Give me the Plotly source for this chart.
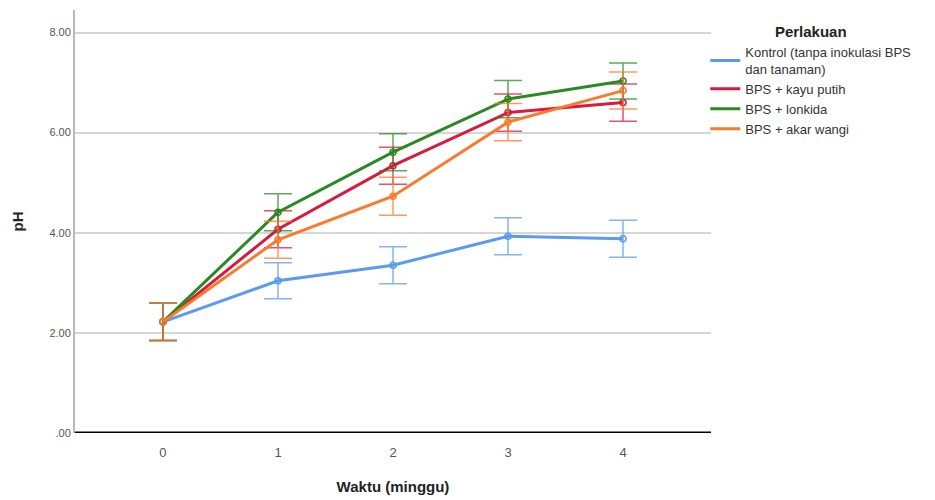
import plotly.graph_objects as go

weeks = [0, 1, 2, 3, 4]
series_names = ["Kontrol (tanpa inokulasi BPS<br>dan tanaman)", "BPS + kayu putih", "BPS + lonkida", "BPS + akar wangi"]
kontrol = [2.22, 3.04, 3.35, 3.93, 3.88]
kayu_putih = [2.22, 4.07, 5.34, 6.40, 6.60]
lonkida = [2.22, 4.41, 5.61, 6.67, 7.03]
akar_wangi = [2.22, 3.86, 4.73, 6.21, 6.84]
err_kontrol = [0.37, 0.36, 0.37, 0.37, 0.37]
err_kayu_putih = [0.37, 0.37, 0.37, 0.37, 0.37]
err_lonkida = [0.37, 0.37, 0.37, 0.37, 0.36]
err_akar_wangi = [0.37, 0.37, 0.38, 0.37, 0.37]
y_ticks = [0, 2, 4, 6, 8]
y_ticktext = [".00", "2.00", "4.00", "6.00", "8.00"]

colors = ["#5a9bef", "#d81a3f", "#2a8a22", "#fa7a2e"]
err_colors = ["rgba(90,155,239,0.75)", "rgba(216,26,63,0.75)", "rgba(42,138,34,0.75)", "rgba(250,122,46,0.75)"]
values = [kontrol, kayu_putih, lonkida, akar_wangi]
errors = [err_kontrol, err_kayu_putih, err_lonkida, err_akar_wangi]

fig = go.Figure()
for name, v, e, c, ec in zip(series_names, values, errors, colors, err_colors):
    fig.add_trace(go.Scatter(
        x=weeks, y=v, name=name, mode="lines+markers", showlegend=False,
        line=dict(color=c, width=3),
        marker=dict(symbol="circle-open", size=6, color=c, line=dict(width=1.5, color=c)),
        error_y=dict(type="data", array=e, visible=True, color=ec, thickness=1.5, width=14),
    ))
# legend-only entries (line samples without markers)
for name, c in zip(series_names, colors):
    fig.add_trace(go.Scatter(
        x=[None], y=[None], name=name, mode="lines",
        line=dict(color=c, width=3), showlegend=True,
    ))

font_family = "Arial, Liberation Sans, sans-serif"
fig.update_layout(
    width=935, height=500,
    margin=dict(l=75, r=224, t=10, b=67, autoexpand=False),
    paper_bgcolor="white", plot_bgcolor="white",
    font=dict(family=font_family, size=12, color="#333"),
    showlegend=True,
    legend=dict(
        x=0.991, y=0.982, xanchor="left", yanchor="top",
        font=dict(family=font_family, size=13, color="#333"),
        title=dict(text="<b>Perlakuan</b>", side="top center", font=dict(family=font_family, size=15, color="#222")),
        bgcolor="rgba(0,0,0,0)", itemwidth=30, tracegroupgap=0,
    ),
    xaxis=dict(
        range=[-0.765, 4.765], tickvals=weeks, ticktext=[str(w) for w in weeks],
        showgrid=False, zeroline=False, showline=False, ticks="", automargin=False,
        tickfont=dict(size=13, color="#555"), ticklabelstandoff=10,
        title=dict(text="<b>Waktu (minggu)</b>", font=dict(size=15, color="#222"), standoff=22),
    ),
    yaxis=dict(
        range=[0, 8.45], tickvals=y_ticks, ticktext=y_ticktext, automargin=False,
        showgrid=True, gridcolor="#d6d6d6", gridwidth=1.5,
        zeroline=False, showline=True, linecolor="#b8b8b8", linewidth=2,
        ticks="", tickfont=dict(size=11, color="#555"),
        title=dict(text="<b>pH</b>", font=dict(size=15, color="#222"), standoff=22),
    ),
)
fig.add_shape(type="line", xref="paper", yref="y", x0=0, x1=1, y0=0, y1=0,
              line=dict(color="black", width=3))

fig.write_html("out.html")
